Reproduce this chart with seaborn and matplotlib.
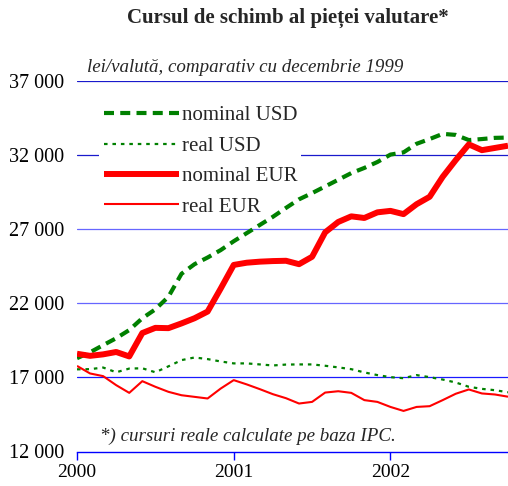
import matplotlib
matplotlib.use("Agg")
import matplotlib.pyplot as plt
import seaborn as sns
import pandas as pd

# ---- data (monthly, Jan 2000 .. Oct 2002) ----
months = list(range(34))
year_ticks = [0, 12, 24]
year_labels = ["2000", "2001", "2002"]
y_ticks = [12000, 17000, 22000, 27000, 32000, 37000]
y_labels = ["12 000", "17 000", "22 000", "27 000", "32 000", "37 000"]

nominal_usd = [18300, 18700, 19180, 19650, 20200, 21000, 21600, 22450, 24000, 24650,
               25100, 25600, 26200, 26750, 27300, 27850, 28450, 29030, 29450, 29900,
               30350, 30800, 31150, 31550, 32050, 32200, 32780, 33100, 33450, 33380,
               33030, 33100, 33180, 33200]
real_usd = [17550, 17560, 17670, 17350, 17600, 17620, 17350, 17750, 18170, 18350,
            18240, 18080, 17950, 17950, 17880, 17810, 17870, 17880, 17880, 17790,
            17680, 17560, 17340, 17160, 17020, 16950, 17160, 17020, 16860, 16660,
            16370, 16230, 16140, 16000]
nominal_eur = [18600, 18460, 18560, 18720, 18420, 20000, 20350, 20330, 20650, 21000,
               21450, 23000, 24600, 24750, 24820, 24860, 24880, 24650, 25150, 26800,
               27500, 27880, 27770, 28150, 28250, 28030, 28700, 29200, 30550, 31680,
               32740, 32350, 32500, 32650]
real_eur = [17780, 17270, 17090, 16480, 15960, 16750, 16370, 16030, 15800, 15690,
            15580, 16250, 16820, 16530, 16210, 15870, 15600, 15240, 15350, 15980,
            16070, 15960, 15470, 15350, 15010, 14740, 15010, 15060, 15470, 15900,
            16190, 15920, 15850, 15700]

series_names = ["nominal USD", "real USD", "nominal EUR", "real EUR"]

title = "Cursul de schimb al pieței valutare*"
subtitle = "lei/valută, comparativ cu decembrie 1999"
footnote = "*) cursuri reale calculate pe baza IPC."

# ---- plot ----
sns.set_theme(style="white")
plt.rcParams["font.family"] = ["Liberation Serif", "DejaVu Serif"]

fig = plt.figure(figsize=(5.08, 4.86), dpi=100)
fig.patch.set_facecolor("white")
ax = fig.add_axes([77 / 508, 1 - 451.5 / 486, 431 / 508, (451.5 - 81.3) / 486])
ax.set_facecolor("white")

green = "#008000"
red = "#ff0000"

# gridlines
grid_colors = {17000: "#1a1aff", 22000: "#6666ff", 27000: "#6666ff",
               32000: "#1a1acc", 37000: "#1a1acc"}
for yv in y_ticks[1:]:
    ax.axhline(yv, color=grid_colors[yv], lw=0.9, zorder=0)

df = pd.DataFrame({"month": months, "nominal USD": nominal_usd, "real USD": real_usd,
                   "nominal EUR": nominal_eur, "real EUR": real_eur})

styles = {
    "nominal USD": dict(color=green, lw=3.0, dashes=(2.4, 1.5)),
    "real USD": dict(color=green, lw=1.6, dashes=(1.6, 2.2)),
    "nominal EUR": dict(color=red, lw=4.3, dashes=None),
    "real EUR": dict(color=red, lw=1.5, dashes=None),
}
handles = []
for name in series_names:
    st = styles[name]
    sns.lineplot(data=df, x="month", y=name, ax=ax, color=st["color"], lw=st["lw"],
                 label=name, zorder=3)
    line = ax.get_lines()[-1]
    if st["dashes"] is not None:
        line.set_dashes(st["dashes"])
    line.set_solid_capstyle("butt")
    handles.append(line)

ax.set_xlim(0, 33)
ax.set_ylim(12000, 37000)
ax.set_xticks(year_ticks)
ax.set_xticklabels(year_labels)
ax.set_yticks(y_ticks)
ax.set_yticklabels(y_labels)
ax.set_xlabel("")
ax.set_ylabel("")

for s in ["left", "right", "top"]:
    ax.spines[s].set_visible(False)
ax.spines["bottom"].set_color("#0000ff")
ax.spines["bottom"].set_linewidth(1.0)
ax.tick_params(axis="x", direction="out", length=6, width=1.0, color="#0000ff",
               labelsize=14, pad=3, labelcolor="black", bottom=True)
ax.tick_params(axis="y", length=0, labelsize=14.5, pad=9, labelcolor="black", left=True)

leg = ax.legend(handles=handles, labels=series_names, loc="upper left",
                bbox_to_anchor=(0.052, 0.945), frameon=True, fontsize=15,
                handlelength=3.6, handletextpad=0.15, labelspacing=0.52,
                borderpad=0.2, borderaxespad=0)
leg.get_frame().set_facecolor("white")
leg.get_frame().set_edgecolor("none")
leg.get_frame().set_alpha(1)
leg.set_zorder(2)

fig.text(0.566, 1 - 18 / 486, title, ha="center", va="center", fontsize=15,
         fontweight="bold")
fig.text(87 / 508, 1 - 68 / 486, subtitle, ha="left", va="center", fontsize=13.7,
         style="italic")
ax.text((100 - 77) / 431, (452 - 437) / 370.2, footnote,
        transform=ax.transAxes, ha="left", va="center", fontsize=13.7, style="italic")

fig.savefig("out.png", dpi=100, facecolor="white")
